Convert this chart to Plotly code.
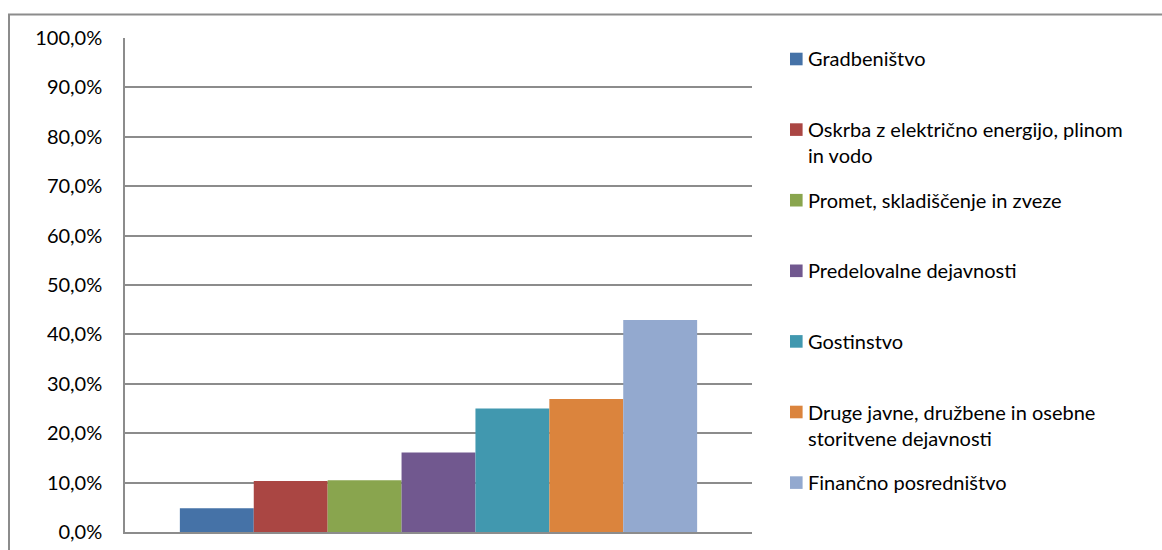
import plotly.graph_objects as go

# ---- data ----
categories = [
    "Gradbeništvo",
    "Oskrba z električno energijo, plinom<br>in vodo",
    "Promet, skladiščenje in zveze",
    "Predelovalne dejavnosti",
    "Gostinstvo",
    "Druge javne, družbene in osebne<br>storitvene dejavnosti",
    "Finančno posredništvo",
]
values = [4.8, 10.3, 10.5, 16.1, 25.0, 26.9, 42.9]
colors = ["#4572A7", "#AA4643", "#89A54E", "#71588F", "#4198AF", "#DB843D", "#93A9CF"]
y_ticks = [0, 10, 20, 30, 40, 50, 60, 70, 80, 90, 100]
y_tick_labels = [f"{t:.1f}".replace(".", ",") + "%" for t in y_ticks]

# ---- layout geometry (pixels) ----
W, H = 1162, 550
PL, PR, PT, PB = 125, 752, 38, 532
FONT = "Lato"
FS = 20
GRID = "#8c8c8c"

def px_x(px):
    return (px - PL) / (PR - PL)

def px_y(py):
    return (PB - py) / (PB - PT)

fig = go.Figure()
for name, v, c in zip(categories, values, colors):
    fig.add_trace(go.Bar(x=[""], y=[v], name=name, marker=dict(color=c, line=dict(width=0)),
                         showlegend=False))

shapes = []
annotations = []

# outer chart border (extends past the right/bottom edges)
shapes.append(dict(type="rect", xref="paper", yref="paper",
                   x0=px_x(9), x1=px_x(1175), y0=px_y(14.5), y1=px_y(565),
                   line=dict(color="#8c8c8c", width=2), fillcolor="rgba(0,0,0,0)", layer="below"))

# custom legend
LEG_TOP, LEG_STEP, LINE = 59.0, 70.6, 26
SQ = 12.6
for i, (name, c) in enumerate(zip(categories, colors)):
    cy = LEG_TOP + i * LEG_STEP
    shapes.append(dict(type="rect", xref="paper", yref="paper",
                       x0=px_x(790), x1=px_x(790 + SQ), y0=px_y(cy - SQ / 2), y1=px_y(cy + SQ / 2),
                       line=dict(width=0), fillcolor=c))
    nlines = name.count("<br>") + 1
    annotations.append(dict(xref="paper", yref="paper", x=px_x(806),
                            y=px_y(cy - 0.5 + (nlines - 1) * LINE / 2),
                            xanchor="left", yanchor="middle", align="left", showarrow=False,
                            text=name, font=dict(family=FONT, size=FS, color="#000000")))

fig.update_layout(
    width=W, height=H,
    margin=dict(l=PL, r=W - PR, t=PT, b=H - PB, pad=0, autoexpand=False),
    paper_bgcolor="white", plot_bgcolor="white",
    barmode="group", bargap=0.175, bargroupgap=0,
    font=dict(family=FONT, size=FS, color="#000000"),
    showlegend=False,
    shapes=shapes, annotations=annotations,
    xaxis=dict(range=[-0.5, 0.5], showticklabels=False, ticks="", showgrid=False, automargin=False,
               zeroline=False, showline=True, linecolor=GRID, linewidth=1.5, fixedrange=True),
    yaxis=dict(range=[0, 100], tickmode="array", tickvals=y_ticks, ticktext=y_tick_labels,
               showgrid=True, gridcolor=GRID, gridwidth=1.5, zeroline=False, automargin=False,
               showline=True, linecolor=GRID, linewidth=1.5, ticks="",
               ticklabelstandoff=17, tickfont=dict(family=FONT, size=FS, color="#000000")),
)

fig.write_html("out.html")
